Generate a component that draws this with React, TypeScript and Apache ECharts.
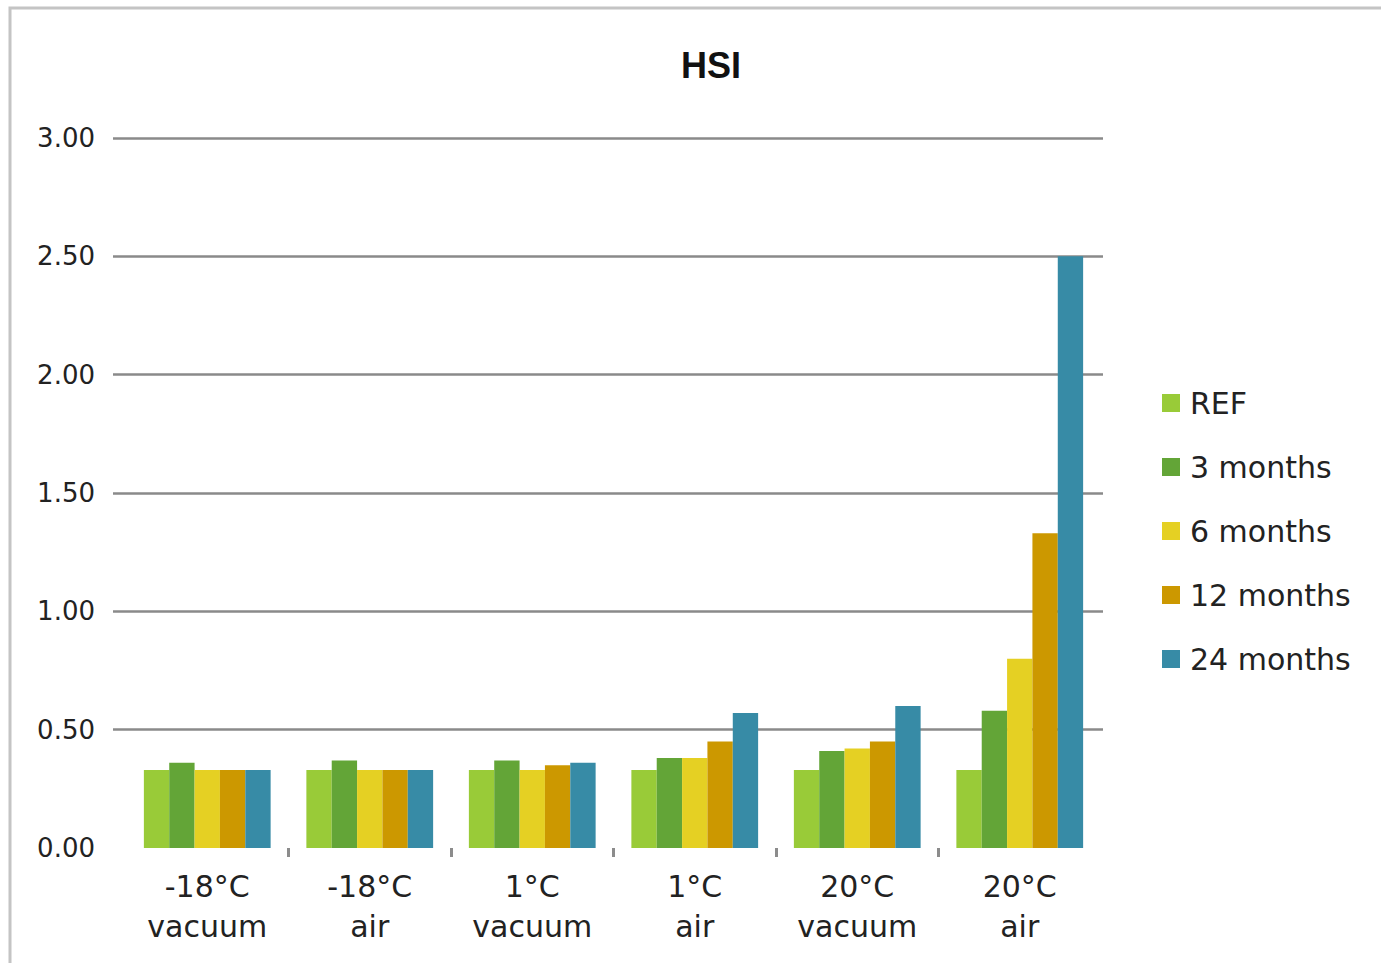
import React, { useEffect, useRef } from "react";
import * as echarts from "echarts";

const categories = ["-18°C\nvacuum", "-18°C\nair", "1°C\nvacuum", "1°C\nair", "20°C\nvacuum", "20°C\nair"];
const seriesNames = ["REF", "3 months", "6 months", "12 months", "24 months"];
const refValues = [0.33, 0.33, 0.33, 0.33, 0.33, 0.33];
const m3Values = [0.36, 0.37, 0.37, 0.38, 0.41, 0.58];
const m6Values = [0.33, 0.33, 0.33, 0.38, 0.42, 0.80];
const m12Values = [0.33, 0.33, 0.35, 0.45, 0.45, 1.33];
const m24Values = [0.33, 0.33, 0.36, 0.57, 0.60, 2.50];
const seriesColors = ["#99CB38", "#63A537", "#E5D023", "#CC9800", "#378BA6"];
const yTicks = [0, 0.5, 1, 1.5, 2, 2.5, 3];

const FONT = "DejaVu Sans";

export default function App() {
  const ref = useRef<HTMLDivElement>(null);
  useEffect(() => {
    if (!ref.current) return;
    const chart = echarts.init(ref.current, null, { renderer: "svg" });
    const values = [refValues, m3Values, m6Values, m12Values, m24Values];
    const gridTop = 138;
    const gridBottom = 963 - 848;
    chart.setOption({
      animation: false,
      backgroundColor: "#ffffff",
      title: {
        text: "HSI",
        left: 706,
        top: 42,
        textAlign: "center",
        textStyle: { fontFamily: "Liberation Sans", fontWeight: "bold", fontSize: 36, color: "#111" },
      },
      graphic: [
        {
          type: "rect",
          shape: { x: 10, y: 8, width: 1420, height: 1000 },
          style: { fill: "none", stroke: "#c4c4c4", lineWidth: 3 },
          silent: true,
        },
        {
          type: "rect",
          z: 100,
          shape: { x: 1095, y: 845, width: 12, height: 18 },
          style: { fill: "#ffffff" },
          silent: true,
        },
      ],
      legend: {
        orient: "vertical",
        left: 1157,
        top: 383,
        itemWidth: 18,
        itemHeight: 18,
        itemGap: 34,
        icon: "rect",
        data: seriesNames,
        textStyle: { fontFamily: FONT, fontSize: 30, lineHeight: 30, color: "#222", padding: [0, 0, 0, 5] },
      },
      grid: [
        { left: 113, right: 1381 - 1103, top: gridTop, bottom: gridBottom },
        { left: 126, right: 1381 - 1101, top: gridTop, bottom: gridBottom },
      ],
      xAxis: [
        { type: "category", gridIndex: 0, data: [""], show: false },
        {
          type: "category",
          gridIndex: 1,
          data: categories,
          axisLine: { show: false },
          axisTick: {
            show: true,
            length: 9,
            lineStyle: { color: "#8c8c8c", width: 3 },
            interval: (index: number) => index !== 0 && index < categories.length,
          },
          axisLabel: {
            fontFamily: FONT,
            fontSize: 30,
            lineHeight: 40,
            color: "#222",
            margin: 18,
            interval: 0,
          },
        },
      ],
      yAxis: [
        {
          type: "value",
          gridIndex: 0,
          min: yTicks[0],
          max: yTicks[yTicks.length - 1],
          interval: 0.5,
          axisLine: { show: false },
          axisTick: { show: false },
          splitLine: { show: true, showMinLine: false, lineStyle: { color: "#8a8a8a", width: 2.5 } },
          axisLabel: {
            fontFamily: FONT,
            fontSize: 26,
            color: "#222",
            margin: 18,
            formatter: (v: number) => v.toFixed(2),
          },
        },
        {
          type: "value",
          gridIndex: 1,
          min: yTicks[0],
          max: yTicks[yTicks.length - 1],
          interval: 0.5,
          show: false,
          splitLine: { show: false },
        },
      ],
      series: seriesNames.map((name, i) => ({
        name,
        type: "bar",
        xAxisIndex: 1,
        yAxisIndex: 1,
        data: values[i],
        barGap: "0%",
        barCategoryGap: "22%",
        itemStyle: { color: seriesColors[i] },
      })),
    });
    return () => chart.dispose();
  }, []);
  return (
    <div
      ref={ref}
      style={{ position: "fixed", left: 0, top: 0, width: 1381, height: 963 }}
    />
  );
}
